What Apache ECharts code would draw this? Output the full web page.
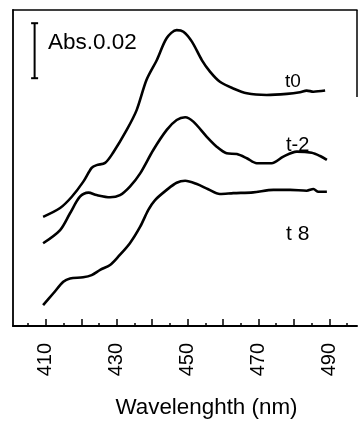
<!DOCTYPE html>
<html>
<head>
<meta charset="utf-8">
<script src="https://cdn.jsdelivr.net/npm/echarts@6/dist/echarts.min.js"></script>
<style>html,body{margin:0;padding:0;background:#fff}#c{width:358px;height:426px}</style>
</head>
<body>
<div id="c"></div>
<script>
// Wavelength (nm) and absorbance
var t0 = [[409.2,0.0397],[414.0,0.0429],[417.3,0.0470],[420.5,0.0524],[422.9,0.0575],[424.3,0.0585],[426.7,0.0593],[428.9,0.0629],[432.8,0.0713],[435.6,0.0785],[438.4,0.0895],[441.3,0.0967],[444.1,0.1047],[446.9,0.1076],[448.8,0.1070],[451.2,0.1034],[454.0,0.0967],[456.3,0.0925],[459.1,0.0888],[462.8,0.0864],[466.7,0.0846],[472.3,0.0840],[478.0,0.0844],[481.7,0.0850],[483.6,0.0856],[485.5,0.0852],[488.8,0.0856]];
var tm2 = [[409.2,0.0301],[414.0,0.0349],[416.8,0.0410],[419.6,0.0470],[422.0,0.0485],[424.3,0.0476],[428.1,0.0468],[430.9,0.0476],[433.7,0.0507],[436.6,0.0555],[440.3,0.0640],[444.1,0.0713],[446.9,0.0749],[449.3,0.0759],[451.6,0.0743],[455.4,0.0688],[458.2,0.0652],[461.0,0.0628],[463.9,0.0625],[466.7,0.0610],[469.5,0.0592],[473.7,0.0592],[477.0,0.0616],[480.8,0.0634],[485.0,0.0630],[487.4,0.0618],[489.3,0.0604]];
var t8 = [[409.2,0.0076],[412.1,0.0119],[414.9,0.0161],[416.8,0.0173],[420.5,0.0177],[422.9,0.0185],[425.3,0.0204],[428.1,0.0222],[430.4,0.0252],[433.7,0.0301],[436.6,0.0361],[438.9,0.0422],[440.8,0.0458],[444.1,0.0495],[446.9,0.0521],[449.3,0.0528],[452.6,0.0516],[455.8,0.0497],[459.1,0.0480],[462.9,0.0483],[468.5,0.0486],[474.2,0.0495],[478.9,0.0495],[483.6,0.0492],[485.5,0.0498],[486.9,0.0488],[489.3,0.0488]];
var scaleBar = [[406.8,0.0901],[406.8,0.1101]];
var labelTicks = [410,430,450,470,490];
var majorTicks = [410,420,430,440,450,460,470,480,490];
var minorTicks = [405,415,425,435,445,455,465,475,485,495];

var chart = echarts.init(document.getElementById('c'), null, {renderer:'canvas'});
var ff = 'Liberation Sans';
function curve(d){
  return {type:'line', data:d, xAxisIndex:0, showSymbol:false, smooth:0.3,
    lineStyle:{color:'#000', width:2.6}, silent:true, animation:false};
}
function txt(s, size, opt){
  var o = {type:'text', style:{text:s, fontSize:size, fontFamily:ff, fill:'#000'}};
  for (var k in opt) { if (k === 'style') { for (var j in opt.style) o.style[j] = opt.style[j]; } else o[k] = opt[k]; }
  return o;
}
chart.setOption({
  animation:false,
  grid:{left:13, top:10, right:1, bottom:100, containLabel:false},
  xAxis:[
    {type:'value', position:'bottom', min:400.7, max:497.8,
     axisLine:{show:true, onZero:false, lineStyle:{color:'#000', width:2}},
     axisTick:{show:true, inside:true, length:7, customValues:majorTicks, lineStyle:{color:'#000', width:1.5}},
     axisLabel:{show:true, rotate:90, margin:17, fontSize:20, fontFamily:ff, color:'#000', customValues:labelTicks},
     splitLine:{show:false}},
    {type:'value', position:'bottom', min:400.7, max:497.8,
     axisLine:{show:false},
     axisTick:{show:true, inside:true, length:3, customValues:minorTicks, lineStyle:{color:'#000', width:1.5}},
     axisLabel:{show:false}, splitLine:{show:false}},
    {type:'value', position:'top', min:400.7, max:497.8,
     axisLine:{show:true, onZero:false, lineStyle:{color:'#000', width:1.5}},
     axisTick:{show:false}, axisLabel:{show:false}, splitLine:{show:false}}
  ],
  yAxis:{type:'value', min:0, max:0.1149,
    axisLine:{show:true, onZero:false, lineStyle:{color:'#000', width:1.8}},
    axisTick:{show:false}, axisLabel:{show:false}, splitLine:{show:false}},
  series:[
    curve(t0), curve(tm2), curve(t8),
    {type:'line', data:scaleBar, symbol:'rect', symbolSize:[7,2], showSymbol:true, showAllSymbol:true,
     itemStyle:{color:'#000'}, lineStyle:{color:'#000', width:2}, silent:true}
  ],
  graphic:[
    {type:'line', shape:{x1:357, y1:10, x2:357, y2:97}, style:{stroke:'#000', lineWidth:1.5}},
    txt('Abs.0.02', 22.5, {x:48, y:43, style:{verticalAlign:'middle'}}),
    txt('t0', 19, {x:285, y:82, style:{verticalAlign:'middle'}}),
    txt('t-2', 20, {x:286, y:145, style:{verticalAlign:'middle'}}),
    txt('t 8', 21, {x:286, y:234.5, style:{verticalAlign:'middle'}}),
    txt('Wavelenghth (nm)', 22.4, {x:206.5, y:408, style:{align:'center', verticalAlign:'middle'}})
  ]
});
</script>
</body>
</html>
